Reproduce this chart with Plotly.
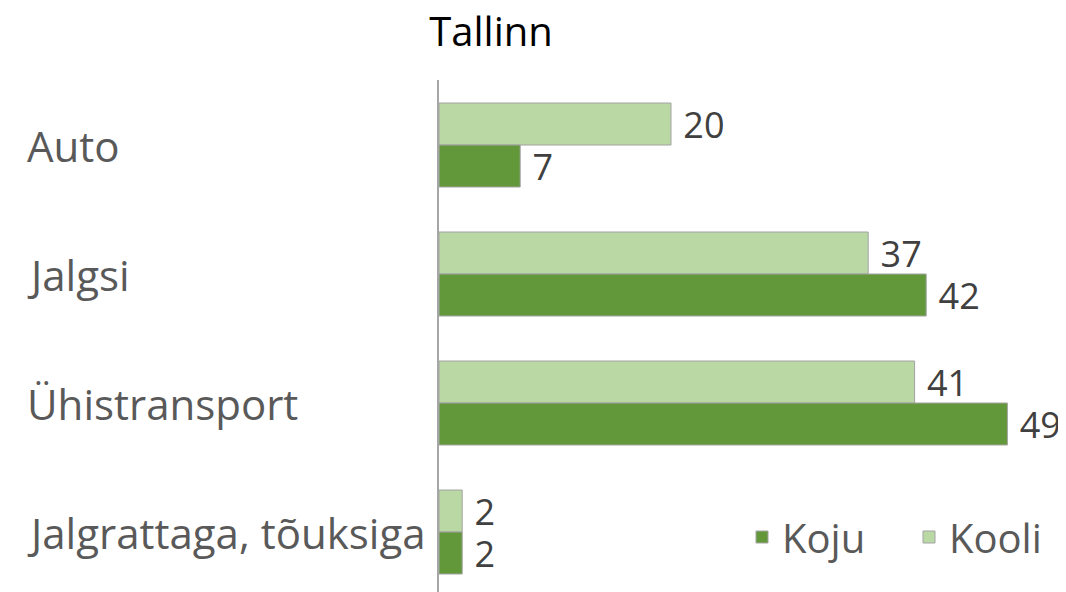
import plotly.graph_objects as go

categories = ["Auto", "Jalgsi", "Ühistransport", "Jalgrattaga, tõuksiga"]
kooli = [20, 37, 41, 2]
koju = [7, 42, 49, 2]

# browser body margin (8px) is compensated for below
OFF = 8
W, H = 1066 - OFF, 592 - OFF
ML, MR, MT, MB = 439 - OFF, 4, 80 - OFF, 0
plot_w = W - ML - MR
plot_h = H - MT - MB
PX_PER_UNIT = 11.6
FONT = "Open Sans"

fig = go.Figure()
fig.add_trace(go.Bar(
    y=categories, x=kooli, orientation="h", name="Kooli",
    marker=dict(color="#BAD8A4", line=dict(color="#A3A3A3", width=1)),
    texttemplate=" %{x}", textposition="outside",
    textfont=dict(size=36, color="#404040", family=FONT),
    constraintext="none", cliponaxis=False, legendrank=2,
))
fig.add_trace(go.Bar(
    y=categories, x=koju, orientation="h", name="Koju",
    marker=dict(color="#62983A", line=dict(color="#A3A3A3", width=1)),
    texttemplate=" %{x}", textposition="outside",
    textfont=dict(size=36, color="#404040", family=FONT),
    constraintext="none", cliponaxis=False, legendrank=1,
))

for c in categories:
    fig.add_annotation(
        x=(25 - OFF - ML) / plot_w, xref="paper", xanchor="left",
        y=c, yref="y", yshift=0, text=c, showarrow=False,
        font=dict(size=42, color="#595959", family=FONT),
    )

fig.update_layout(
    width=W, height=H,
    margin=dict(l=ML, r=MR, t=MT, b=MB, autoexpand=False),
    paper_bgcolor="white", plot_bgcolor="white",
    barmode="group", bargap=0.349, bargroupgap=0,
    title=dict(text="Tallinn", x=(491 - OFF) / W, xanchor="center",
               y=1 - (32 - OFF) / H, yanchor="middle",
               font=dict(size=40, color="#000000", family=FONT)),
    xaxis=dict(range=[0, plot_w / PX_PER_UNIT], showgrid=False, showticklabels=False,
               zeroline=False, showline=False, ticks=""),
    yaxis=dict(type="category", range=[3.465, -0.504], showgrid=False,
               showticklabels=False, ticks="", showline=True,
               linecolor="#A6A6A6", linewidth=2),
    showlegend=True,
    legend=dict(orientation="h", x=(742 - OFF - ML) / plot_w, xanchor="left",
                y=(H - (537 - OFF)) / plot_h, yanchor="middle",
                font=dict(size=40, color="#595959", family=FONT),
                bgcolor="rgba(0,0,0,0)", itemwidth=30,
                entrywidth=122, entrywidthmode="pixels"),
)

fig.write_html("out.html")
